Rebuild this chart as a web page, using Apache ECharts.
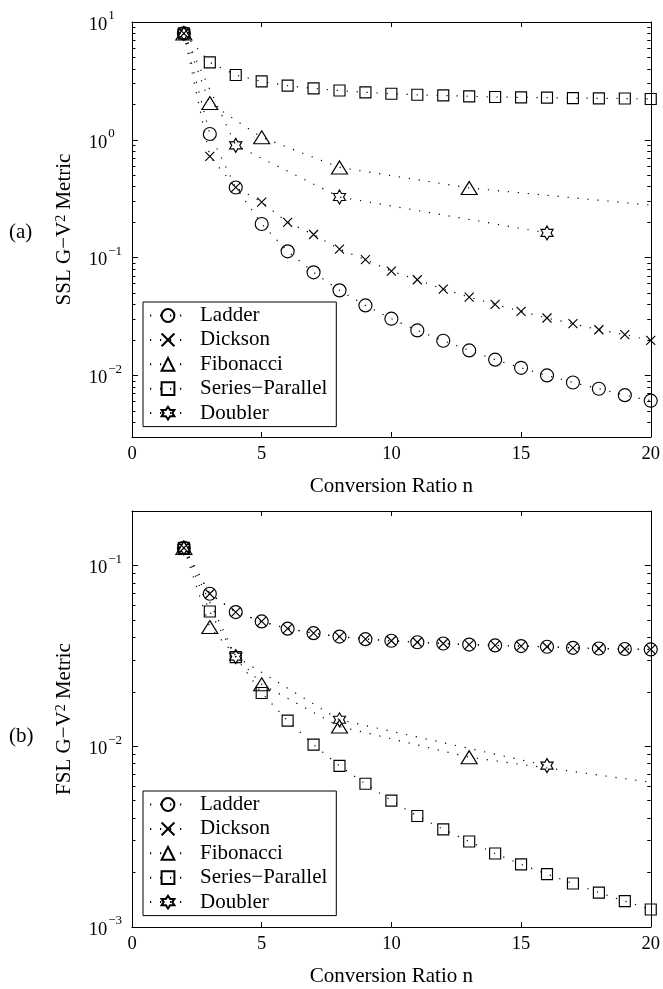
<!DOCTYPE html>
<html>
<head>
<meta charset="utf-8">
<script src="https://cdn.jsdelivr.net/npm/echarts@6/dist/echarts.min.js"></script>
<style>
html, body { margin: 0; padding: 0; background: #fff; }
#main { width: 663px; height: 989px; }
</style>
</head>
<body>
<div id="main"></div>
<script>
var FONT = '"Liberation Serif", "Times New Roman", serif'

// x positions (conversion ratio n)
var nAll = [2, 3, 4, 5, 6, 7, 8, 9, 10, 11, 12, 13, 14, 15, 16, 17, 18, 19, 20]
var nFib = [2, 3, 5, 8, 13, 21]
var nDbl = [2, 4, 8, 16]

// (a) SSL metric
var sslLadder = [8.0, 1.12, 0.394, 0.193, 0.113, 0.075, 0.0527, 0.0393, 0.0303, 0.0241, 0.0197, 0.0163, 0.0136, 0.0116, 0.0100, 0.0087, 0.0077, 0.0068, 0.0061]
var sslDickson = [8.0, 0.723, 0.394, 0.296, 0.199, 0.157, 0.118, 0.096, 0.0769, 0.0649, 0.054, 0.0462, 0.0401, 0.0349, 0.0307, 0.0275, 0.0244, 0.0222, 0.0198]
var sslFib = [8.0, 2.05, 1.05, 0.583, 0.39, 0.266]
var sslSP = [8.0, 4.54, 3.55, 3.13, 2.88, 2.73, 2.62, 2.53, 2.46, 2.41, 2.38, 2.34, 2.31, 2.29, 2.28, 2.26, 2.25, 2.24, 2.22]
var sslDbl = [8.0, 0.897, 0.327, 0.162]

// (b) FSL metric
var fslLadder = [0.125, 0.0697, 0.0552, 0.049, 0.0447, 0.0422, 0.0404, 0.0391, 0.0383, 0.0376, 0.037, 0.0365, 0.0361, 0.0358, 0.0355, 0.035, 0.0347, 0.0345, 0.0343]
var fslDickson = [0.125, 0.0697, 0.0552, 0.049, 0.0447, 0.0422, 0.0404, 0.0391, 0.0383, 0.0376, 0.037, 0.0365, 0.0361, 0.0358, 0.0355, 0.035, 0.0347, 0.0345, 0.0343]
var fslFib = [0.125, 0.0456, 0.022, 0.01285, 0.00869, 0.00604]
var fslSP = [0.125, 0.0556, 0.0311, 0.0197, 0.01386, 0.0102, 0.00778, 0.0062, 0.0050, 0.00411, 0.00347, 0.00297, 0.00255, 0.00222, 0.00196, 0.00174, 0.00155, 0.00139, 0.00125]
var fslDbl = [0.125, 0.0313, 0.014, 0.00781]

var names = ['Ladder', 'Dickson', 'Fibonacci', 'Series\u2212Parallel', 'Doubler']

// minor tick positions on the log axes
var minorA = [0.004, 0.005, 0.006, 0.007, 0.008, 0.009, 0.02, 0.03, 0.04, 0.05, 0.06, 0.07, 0.08, 0.09,
    0.2, 0.3, 0.4, 0.5, 0.6, 0.7, 0.8, 0.9, 2, 3, 4, 5, 6, 7, 8, 9]
var minorB = [0.002, 0.003, 0.004, 0.005, 0.006, 0.007, 0.008, 0.009, 0.02, 0.03, 0.04, 0.05, 0.06, 0.07, 0.08, 0.09]

var crossSym = 'path://M0,0L10,10M10,0L0,10'
var hexSym = 'path://M10,0L12.887,5L18.66,5L15.774,10L18.66,15L12.887,15L10,20L7.113,15L1.34,15L4.226,10L1.34,5L7.113,5Z'

var myChart = echarts.init(document.getElementById('main'), null, { renderer: 'canvas' })

function pairs(xs, ys) {
    var out = []
    for (var i = 0; i < ys.length; i++) {
        out.push([xs[i], ys[i]])
    }
    return out
}

function mkSeries(name, xs, ys, sym, size, g) {
    return {
        name: name,
        type: 'line',
        xAxisIndex: g * 2,
        yAxisIndex: g * 4,
        data: pairs(xs, ys),
        symbol: sym,
        symbolSize: size,
        symbolKeepAspect: true,
        showAllSymbol: true,
        clip: true,
        itemStyle: { color: 'transparent', borderColor: '#000', borderWidth: 1.15 },
        lineStyle: { color: '#000', width: 1.2, type: [1.2, 8.8] },
        emphasis: { disabled: true }
    }
}

// 10^k labels, the "10" kept at the same x whatever the exponent
function logLabel(v) {
    var e = Math.log10(v)
    var r = Math.round(e)
    if (Math.abs(e - r) > 1e-6) return ''
    if (r < 0) return '{b|10}{s|\u2212' + (-r) + '}'
    return '{b|10}{p|' + r + '}'
}

var labelRich = {
    b: { fontFamily: FONT, fontSize: 18.5, color: '#000', padding: [6, 1, 0, 0] },
    s: { fontFamily: FONT, fontSize: 13, color: '#000', verticalAlign: 'top' },
    p: { fontFamily: FONT, fontSize: 13, color: '#000', verticalAlign: 'top', padding: [0, 7.3, 0, 0] }
}

function yAxes(g, min, max, minors, title) {
    var base = { type: 'log', logBase: 10, gridIndex: g, min: min, max: max, splitLine: { show: false } }
    var line = { show: true, lineStyle: { color: '#000', width: 1 } }
    return [
        Object.assign({}, base, {
            position: 'left',
            axisLine: line,
            axisTick: { inside: true, length: 6, lineStyle: { color: '#000' } },
            axisLabel: { formatter: logLabel, margin: 10, rich: labelRich },
            name: title,
            nameLocation: 'middle',
            nameGap: 57,
            nameTextStyle: {
                fontFamily: FONT, fontSize: 21, color: '#000',
                rich: { s: { fontFamily: FONT, fontSize: 14, color: '#000', verticalAlign: 'top' } }
            }
        }),
        Object.assign({}, base, {
            position: 'left',
            axisLine: { show: false },
            axisTick: { inside: true, length: 3.5, customValues: minors, lineStyle: { color: '#000' } },
            axisLabel: { show: false }
        }),
        Object.assign({}, base, {
            position: 'right',
            axisLine: line,
            axisTick: { inside: true, length: 6, lineStyle: { color: '#000' } },
            axisLabel: { show: false }
        }),
        Object.assign({}, base, {
            position: 'right',
            axisLine: { show: false },
            axisTick: { inside: true, length: 3.5, customValues: minors, lineStyle: { color: '#000' } },
            axisLabel: { show: false }
        })
    ]
}

function xAxes(g) {
    var base = { type: 'value', gridIndex: g, min: 0, max: 20, interval: 5, splitLine: { show: false },
        axisLine: { show: true, onZero: false, lineStyle: { color: '#000', width: 1 } },
        axisTick: { inside: true, length: 5, lineStyle: { color: '#000' } } }
    return [
        Object.assign({}, base, {
            position: 'bottom',
            axisLabel: { fontFamily: FONT, fontSize: 18.5, color: '#000', margin: 8 },
            name: 'Conversion Ratio n',
            nameLocation: 'middle',
            nameGap: 39,
            nameTextStyle: { fontFamily: FONT, fontSize: 21, color: '#000' }
        }),
        Object.assign({}, base, {
            position: 'top',
            axisLabel: { show: false }
        })
    ]
}

function legendAt(top) {
    return {
        orient: 'vertical',
        left: 143,
        top: top,
        data: names,
        itemWidth: 36,
        itemHeight: 16,
        itemGap: 3.4,
        padding: [3, 9, 3, 6],
        borderColor: '#000',
        borderWidth: 1,
        borderRadius: 0,
        backgroundColor: '#fff',
        selectedMode: false,
        textStyle: { fontFamily: FONT, fontSize: 21, color: '#000', padding: [0, 0, 0, 9] }
    }
}

var series = [
    mkSeries(names[0], nAll, sslLadder, 'circle', 13, 0),
    mkSeries(names[1], nAll, sslDickson, crossSym, 9, 0),
    mkSeries(names[2], nFib, sslFib, 'triangle', [16, 13], 0),
    mkSeries(names[3], nAll, sslSP, 'rect', 11, 0),
    mkSeries(names[4], nDbl, sslDbl, hexSym, 14, 0),
    mkSeries(names[0], nAll, fslLadder, 'circle', 13, 1),
    mkSeries(names[1], nAll, fslDickson, crossSym, 9, 1),
    mkSeries(names[2], nFib, fslFib, 'triangle', [16, 13], 1),
    mkSeries(names[3], nAll, fslSP, 'rect', 11, 1),
    mkSeries(names[4], nDbl, fslDbl, hexSym, 14, 1)
]

var option = {
    animation: false,
    backgroundColor: '#fff',
    grid: [
        { left: 132, top: 22, width: 520, height: 415 },
        { left: 132, top: 511, width: 520, height: 416 }
    ],
    xAxis: xAxes(0).concat(xAxes(1)),
    yAxis: yAxes(0, 0.003, 10, minorA, '{n|SSL G\u2212V}{s|2}{n| Metric}')
        .concat(yAxes(1, 0.001, 0.2, minorB, '{n|FSL G\u2212V}{s|2}{n| Metric}')),
    legend: [legendAt(302), legendAt(791)],
    graphic: [
        { type: 'text', left: 9, top: 222, style: { text: '(a)', font: '21px ' + FONT, fill: '#000' } },
        { type: 'text', left: 9, top: 726, style: { text: '(b)', font: '21px ' + FONT, fill: '#000' } }
    ],
    series: series
}

myChart.setOption(option)
</script>
</body>
</html>
